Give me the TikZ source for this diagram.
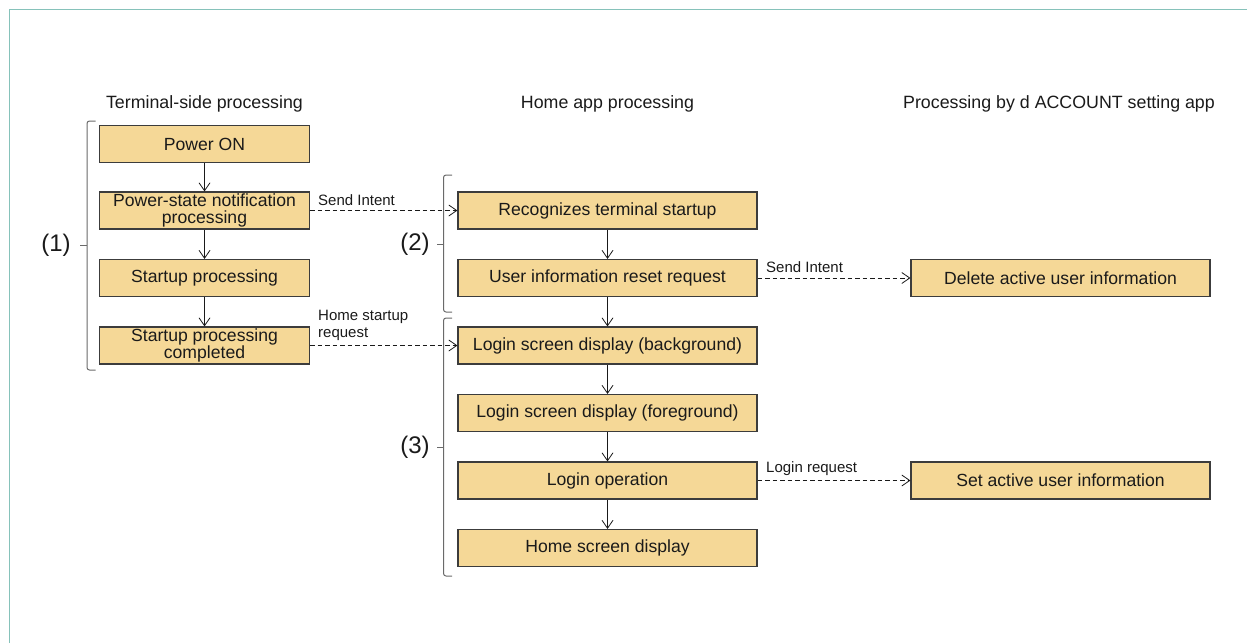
\documentclass[tikz,border=0pt]{standalone}
\usepackage{fontspec}
\setmainfont{Liberation Sans}
\usetikzlibrary{arrows.meta}
\definecolor{boxfill}{HTML}{F5D897}
\definecolor{boxline}{HTML}{3C3C3C}
\definecolor{framecol}{HTML}{86C2BA}
\definecolor{bracecol}{HTML}{6A6A6A}
\definecolor{ink}{HTML}{1A1A1A}
\tikzset{
  stepbox/.style={draw=boxline, fill=boxfill, line width=1.1pt, minimum height=37pt,
    inner sep=0pt, align=center, text=ink, font=\fontsize{17.6}{17}\selectfont},
  narrowbox/.style={stepbox, minimum width=210pt},
  widebox/.style={stepbox, minimum width=299pt},
  header/.style={text=ink, font=\fontsize{17.8}{20}\selectfont, inner sep=0pt},
  msg/.style={text=ink, font=\fontsize{15}{17.5}\selectfont, inner sep=0pt, anchor=west, align=left},
  phase/.style={text=ink, font=\fontsize{24}{26}\selectfont, inner sep=0pt},
  flow/.style={draw=ink, line width=0.8pt, -{Straight Barb[length=8pt,width=11pt,line width=0.8pt]}},
  call/.style={flow, dash pattern=on 4.5pt off 3pt},
  bracket/.style={draw=bracecol, line width=1pt, rounded corners=2.5pt},
}
\begin{document}
\begin{tikzpicture}[x=1pt,y=-1pt]
\useasboundingbox (0,0) rectangle (1247,643);
% open frame: top and left edges
\draw[framecol, line width=1pt] (9.5,643) -- (9.5,9.5) -- (1247,9.5);

% column headings
\node[header] (h1) at (204.5,104) {Terminal-side processing};
\node[header] (h2) at (607.5,104) {Home app processing};
\node[header] (h3) at (1059,104) {Processing by d ACCOUNT setting app};

% terminal side
\node[narrowbox] (pon)  at (204.5,144)   {Power ON};
\node[narrowbox] (pst)  at (204.5,210.5) {Power-state notification\\processing};
\node[narrowbox] (sup)  at (204.5,278)   {Startup processing};
\node[narrowbox] (sdn)  at (204.5,345.5) {Startup processing\\completed};

% home app
\node[widebox] (rec)  at (607.5,210.5) {Recognizes terminal startup};
\node[widebox] (urr)  at (607.5,278)   {User information reset request};
\node[widebox] (lbg)  at (607.5,345.5) {Login screen display (background)};
\node[widebox] (lfg)  at (607.5,413)   {Login screen display (foreground)};
\node[widebox] (lop)  at (607.5,480.5) {Login operation};
\node[widebox] (hsd)  at (607.5,548)   {Home screen display};

% d ACCOUNT setting app
\node[widebox] (dau)  at (1060.5,278)   {Delete active user information};
\node[widebox] (sau)  at (1060.5,480.5) {Set active user information};

% sequential flow
\draw[flow] (pon) -- (pst);
\draw[flow] (pst) -- (sup);
\draw[flow] (sup) -- (sdn);
\draw[flow] (rec) -- (urr);
\draw[flow] (urr) -- (lbg);
\draw[flow] (lbg) -- (lfg);
\draw[flow] (lfg) -- (lop);
\draw[flow] (lop) -- (hsd);

% inter-app messages
\draw[call] (pst) -- (rec);
\draw[call] (sdn) -- (lbg);
\draw[call] (urr) -- (dau);
\draw[call] (lop) -- (sau);
\node[msg] (m1) at (318,200) {Send Intent};
\node[msg] (m2) at (318,325.5) {Home startup\\request};
\node[msg] (m3) at (766,267) {Send Intent};
\node[msg] (m4) at (766,469) {Login request};

% phase brackets
\draw[bracket] (95.5,121) -- (87,121) -- (87,370) -- (95.5,370);
\draw[bracecol, line width=1pt] (87,245) -- (80,245);
\node[phase] (p1) at (56,245) {(1)};

\draw[bracket] (452,175) -- (443.5,175) -- (443.5,312) -- (452,312);
\draw[bracecol, line width=1pt] (443.5,244) -- (436.5,244);
\node[phase] (p2) at (415,244) {(2)};

\draw[bracket] (452,318) -- (443.5,318) -- (443.5,576) -- (452,576);
\draw[bracecol, line width=1pt] (443.5,447) -- (436.5,447);
\node[phase] (p3) at (415,447) {(3)};
\end{tikzpicture}
\end{document}
